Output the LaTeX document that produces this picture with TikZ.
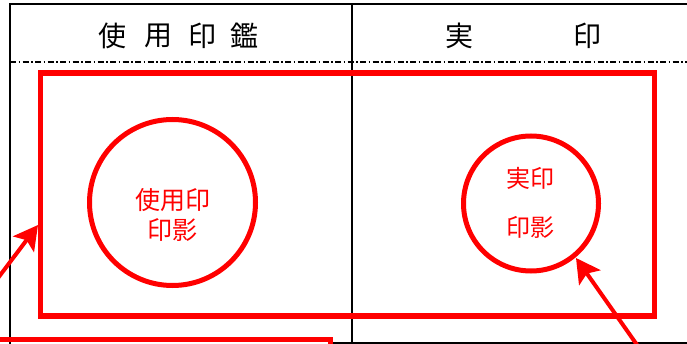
\documentclass[tikz,border=0pt]{standalone}
\usepackage{fontspec}
\newfontfamily\jp{Noto Sans CJK JP}
\usetikzlibrary{arrows.meta}
\definecolor{stampred}{RGB}{255,0,0}
\tikzset{
  frame/.style={line width=2.5pt,black},
  divider/.style={line width=1.3pt,black},
  dashdot/.style={line width=1.5pt,black,dash pattern=on 6pt off 2.5pt on 1.5pt off 2.5pt},
  hdr/.style={font=\jp\fontsize{28}{30}\selectfont,inner sep=0pt,anchor=center},
  redbox/.style={draw=stampred,line width=5.5pt},
  seal/.style={draw=stampred,line width=5pt,circle,inner sep=0pt},
  sealtxt/.style={text=stampred,inner sep=0pt,align=center},
  pointer/.style={draw=stampred,line width=4pt,-{Stealth[length=24pt,width=26pt,inset=5pt]}}
}
\begin{document}
\begin{tikzpicture}[x=1pt,y=-1pt]
\useasboundingbox (0,0) rectangle (687,344);
\clip (0,0) rectangle (687,344);
% table lines
\coordinate (tl) at (10,4);
\coordinate (tr) at (690,4);
\coordinate (bl) at (10,347);
\coordinate (mt) at (352,4);
\coordinate (mb) at (352,347);
\coordinate (dl) at (10,62);
\coordinate (dr) at (690,62);
\coordinate (bbl) at (333,343);
\coordinate (bbr) at (690,343);
\draw[frame] (bl) -- (tl) -- (tr);
\draw[divider] (mt) -- (mb);
\draw[divider] (bbl) -- (bbr);
\draw[dashdot] (dl) -- (dr);
% headers
\node[hdr] (h1) at (112,36) {使};
\node[hdr] (h2) at (158,36) {用};
\node[hdr] (h3) at (202,36) {印};
\node[hdr] (h4) at (244,36) {鑑};
\node[hdr] (h5) at (459,36) {実};
\node[hdr] (h6) at (587,36) {印};
% big red box
\node[redbox,minimum width=614pt,minimum height=243pt,inner sep=0pt] (box) at (347.5,194.5) {};
% seals
\node[seal,minimum size=166pt] (s1) at (172.5,202.5) {};
\node[sealtxt,font=\jp\fontsize{25}{30}\selectfont] (t1) at (172.5,215) {使用印\\印影};
\node[seal,minimum size=135pt] (s2) at (531,203.5) {};
\node[sealtxt,font=\jp\fontsize{24}{49}\selectfont] (t2) at (530,202.5) {実印\\印影};
% lower-left red box (partly visible)
\coordinate (lb1) at (-10,339.5);
\coordinate (lb2) at (330.5,339.5);
\coordinate (lb3) at (330.5,360);
\draw[redbox] (lb1) -- (lb2) -- (lb3);
% arrows
\coordinate (a1s) at (-8,286);
\coordinate (a1e) at (38,225);
\draw[pointer] (a1s) -- (a1e);
\coordinate (a2s) at (642,352);
\coordinate (a2e) at (576,258);
\draw[pointer] (a2s) -- (a2e);
\end{tikzpicture}
\end{document}
